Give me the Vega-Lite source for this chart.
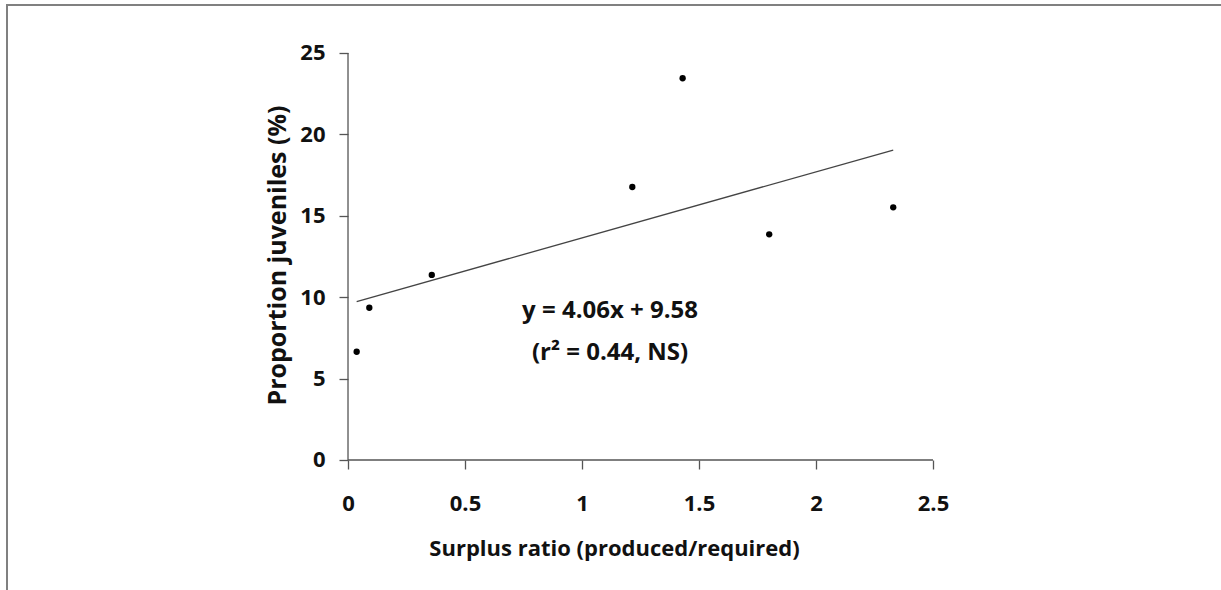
{
  "$schema": "https://vega.github.io/schema/vega-lite/v6.json",
  "width": 1216,
  "height": 587,
  "padding": {"left": 7, "top": 5, "right": 0, "bottom": 0},
  "autosize": {"type": "none"},
  "background": "white",
  "config": {
    "view": {"stroke": "#808080", "strokeWidth": 2},
    "font": "Open Sans"
  },
  "datasets": {
    "points": [
      {"surplus": 0.037, "juveniles": 6.65},
      {"surplus": 0.091, "juveniles": 9.35},
      {"surplus": 0.358, "juveniles": 11.37},
      {"surplus": 1.215, "juveniles": 16.77},
      {"surplus": 1.43, "juveniles": 23.45},
      {"surplus": 1.80, "juveniles": 13.86},
      {"surplus": 2.33, "juveniles": 15.52}
    ],
    "fit": [
      {"surplus": 0.037, "juveniles": 9.73},
      {"surplus": 2.33, "juveniles": 19.04}
    ],
    "axislines": [
      {"surplus": 0, "juveniles": 0, "surplus_end": 2.5, "juveniles_end": 0},
      {"surplus": 0, "juveniles": 0, "surplus_end": 0, "juveniles_end": 25}
    ],
    "notes": [
      {"surplus": 1.12, "juveniles": 9.15, "label": "y = 4.06x + 9.58"},
      {"surplus": 1.12, "juveniles": 6.57, "label": "(r² = 0.44, NS)"}
    ]
  },
  "encoding": {
    "x": {
      "field": "surplus",
      "type": "quantitative",
      "scale": {"domain": [-1.4573, 3.7393], "nice": false, "zero": false},
      "axis": {
        "orient": "bottom",
        "offset": -132,
        "values": [0, 0.5, 1, 1.5, 2, 2.5],
        "labelExpr": "'' + datum.value",
        "domain": false,
        "grid": false,
        "tickSize": 9,
        "tickColor": "#555555",
        "tickWidth": 1.3,
        "labelFont": "Open Sans",
        "labelFontWeight": "bold",
        "labelFontSize": 22,
        "labelColor": "#111111",
        "labelPadding": 24,
        "labelOverlap": false,
        "labelFlush": false,
        "title": "Surplus ratio (produced/required)",
        "titleFont": "Open Sans",
        "titleFontWeight": "bold",
        "titleFontSize": 22,
        "titleColor": "#111111",
        "titleX": 607,
        "titleY": 88,
        "titleAlign": "center",
        "titleBaseline": "middle"
      }
    },
    "y": {
      "field": "juveniles",
      "type": "quantitative",
      "scale": {"domain": [-8.108, 27.948], "nice": false, "zero": false},
      "axis": {
        "orient": "left",
        "offset": -341,
        "values": [0, 5, 10, 15, 20, 25],
        "labelExpr": "'' + datum.value",
        "domain": false,
        "grid": false,
        "tickSize": 9,
        "tickColor": "#555555",
        "tickWidth": 1.3,
        "labelFont": "Open Sans",
        "labelFontWeight": "bold",
        "labelFontSize": 22,
        "labelColor": "#111111",
        "labelPadding": 14,
        "labelOverlap": false,
        "labelFlush": false,
        "title": "Proportion juveniles (%)",
        "titleFont": "Open Sans",
        "titleFontWeight": "bold",
        "titleFontSize": 25,
        "titleColor": "#111111",
        "titleX": -71,
        "titleY": 250,
        "titleAngle": 270,
        "titleAlign": "center",
        "titleBaseline": "middle"
      }
    }
  },
  "layer": [
    {
      "data": {"name": "axislines"},
      "mark": {"type": "rule", "color": "#555555", "strokeWidth": 1.3},
      "encoding": {
        "x2": {"field": "surplus_end"},
        "y2": {"field": "juveniles_end"}
      }
    },
    {
      "data": {"name": "fit"},
      "mark": {"type": "line", "color": "#444444", "strokeWidth": 1.3},
      "encoding": {}
    },
    {
      "data": {"name": "points"},
      "mark": {"type": "circle", "color": "#000000", "opacity": 1, "size": 40},
      "encoding": {}
    },
    {
      "data": {"name": "notes"},
      "mark": {"type": "text", "font": "Open Sans", "fontWeight": "bold", "fontSize": 24, "color": "#111111", "align": "center", "baseline": "middle"},
      "encoding": {
        "text": {"field": "label", "type": "nominal"}
      }
    }
  ]
}
